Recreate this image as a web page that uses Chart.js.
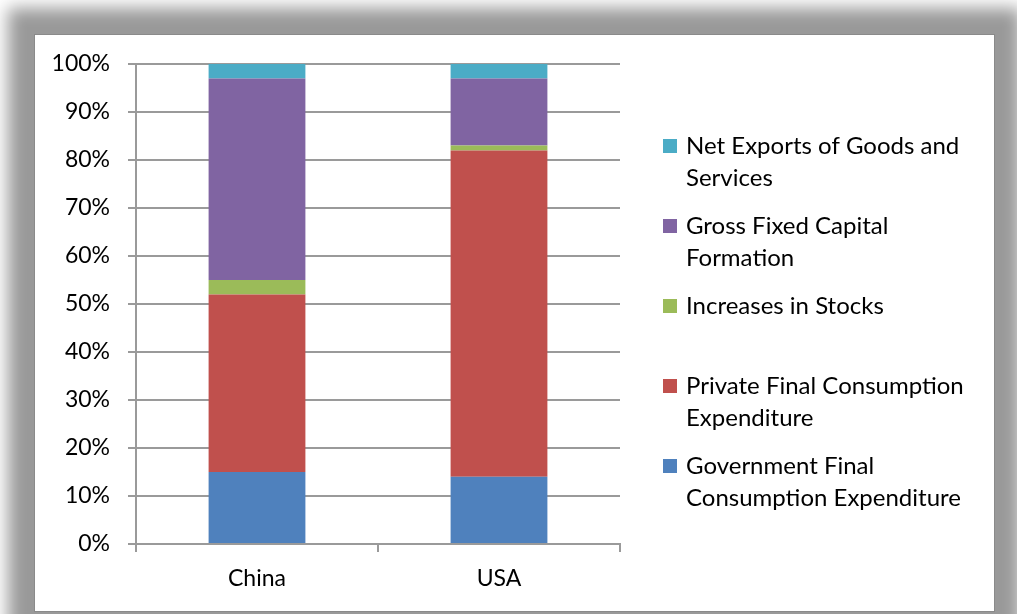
<!DOCTYPE html>
<html>
<head>
<meta charset="utf-8">
<script src="https://cdn.jsdelivr.net/npm/chart.js@4/dist/chart.umd.min.js"></script>
<style>
  html, body { margin: 0; padding: 0; background: #fff; overflow: hidden; }
  #panel {
    position: absolute;
    left: 34px; top: 34px;
    width: 959px; height: 576px;
    background: #fff;
    border: 1px solid #8a8a8a;
    box-shadow: 0 0 16px 26px rgba(0, 0, 0, 0.4);
  }
  #chart { display: block; }
</style>
</head>
<body>
<div id="panel"><canvas id="chart" width="959" height="576"></canvas></div>
<script>
// 지출 구성 (GDP 대비 %), 아래에서 위로 쌓는 순서
const COUNTRIES = ['China', 'USA'];
const SERIES_NAMES = [
  'Government Final Consumption Expenditure',
  'Private Final Consumption Expenditure',
  'Increases in Stocks',
  'Gross Fixed Capital Formation',
  'Net Exports of Goods and Services',
];
const GOV_CONSUMPTION = [15, 14];
const PRIVATE_CONSUMPTION = [37, 68];
const STOCK_INCREASE = [3, 1];
const FIXED_CAPITAL = [42, 14];
const NET_EXPORTS = [3, 3];
const Y_TICKS = [0, 10, 20, 30, 40, 50, 60, 70, 80, 90, 100];

const SERIES_COLORS = ['#4f81bd', '#c0504d', '#9bbb59', '#8064a2', '#4bacc6'];
const FONT = 'Lato, Carlito, Calibri, sans-serif';
const GRID = '#9a9a9a';

const seriesValues = [GOV_CONSUMPTION, PRIVATE_CONSUMPTION, STOCK_INCREASE, FIXED_CAPITAL, NET_EXPORTS];

/** 오른쪽 범례 — 줄바꿈 포함, 역순으로 그림 */
const wrappedLegend = {
  id: 'wrappedLegend',
  afterDraw(chart) {
    const ctx = chart.ctx;
    const boxX = 628, textX = 651, firstY = 111, step = 80, lineH = 32, maxW = 292;
    ctx.save();
    ctx.font = '24px ' + FONT;
    ctx.textBaseline = 'middle';
    ctx.textAlign = 'left';
    const items = chart.data.datasets.slice().reverse();
    items.forEach((ds, i) => {
      const y = firstY + i * step;
      ctx.fillStyle = ds.backgroundColor;
      ctx.fillRect(boxX, y - 7, 14, 14);
      // 단어 단위 줄바꿈
      const lines = [];
      let cur = '';
      ds.label.split(' ').forEach((w) => {
        const test = cur ? cur + ' ' + w : w;
        if (cur && ctx.measureText(test).width > maxW) {
          lines.push(cur);
          cur = w;
        } else {
          cur = test;
        }
      });
      lines.push(cur);
      ctx.fillStyle = '#000';
      lines.forEach((line, j) => ctx.fillText(line, textX, y + j * lineH));
    });
    ctx.restore();
  },
};

new Chart(document.getElementById('chart'), {
  type: 'bar',
  data: {
    labels: COUNTRIES,
    datasets: SERIES_NAMES.map((name, i) => ({
      label: name,
      data: seriesValues[i],
      backgroundColor: SERIES_COLORS[i],
      borderWidth: 0,
      barPercentage: 0.4,
      categoryPercentage: 1,
    })),
  },
  options: {
    responsive: false,
    animation: false,
    layout: { padding: { top: 29, right: 374, left: 0, bottom: 0 } },
    plugins: {
      legend: { display: false },
      tooltip: { enabled: false },
    },
    scales: {
      x: {
        stacked: true,
        afterFit: (scale) => {
          scale.height = 67;
          scale.paddingLeft = 0;
          scale.paddingRight = 0;
        },
        grid: {
          drawOnChartArea: false,
          color: GRID,
          lineWidth: 2,
          tickLength: 8,
        },
        border: { color: GRID, width: 2 },
        ticks: {
          color: '#000',
          font: { family: FONT, size: 23 },
          padding: 13,
        },
      },
      y: {
        stacked: true,
        min: 0,
        max: 100,
        afterFit: (scale) => {
          scale.width = 101;
          scale.paddingTop = 0;
          scale.paddingBottom = 0;
        },
        afterBuildTicks: (scale) => { scale.ticks = Y_TICKS.map((v) => ({ value: v })); },
        grid: {
          color: GRID,
          lineWidth: 2,
          tickLength: 8,
        },
        border: { color: GRID, width: 2 },
        ticks: {
          color: '#000',
          font: { family: FONT, size: 23 },
          padding: 18,
          callback: (v) => v + '%',
        },
      },
    },
  },
  plugins: [wrappedLegend],
});
</script>
</body>
</html>
